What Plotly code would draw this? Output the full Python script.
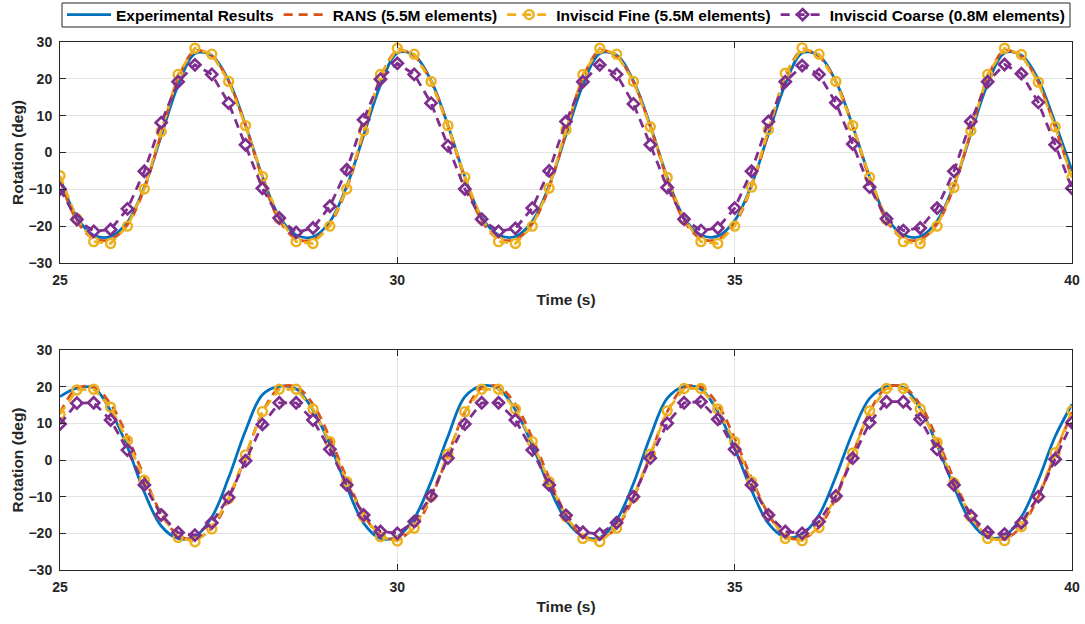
import plotly.graph_objects as go

# ---------------- data ----------------
time_s = [25.00, 25.25, 25.50, 25.75, 26.00, 26.25, 26.50, 26.75, 27.00, 27.25, 27.50, 27.75,
          28.00, 28.25, 28.50, 28.75, 29.00, 29.25, 29.50, 29.75, 30.00, 30.25, 30.50, 30.75,
          31.00, 31.25, 31.50, 31.75, 32.00, 32.25, 32.50, 32.75, 33.00, 33.25, 33.50, 33.75,
          34.00, 34.25, 34.50, 34.75, 35.00, 35.25, 35.50, 35.75, 36.00, 36.25, 36.50, 36.75,
          37.00, 37.25, 37.50, 37.75, 38.00, 38.25, 38.50, 38.75, 39.00, 39.25, 39.50, 39.75,
          40.00]

# top panel
top_exp = [-6.8, -17.6, -22.5, -22.8, -18.9, -9.4, 4.5, 18.2, 26.9, 26.3, 19.5, 7.5,
           -6.5, -17.4, -22.4, -22.9, -18.8, -9.2, 4.6, 18.3, 27.0, 26.4, 19.5, 7.4,
           -6.6, -17.6, -22.4, -22.8, -18.7, -9.0, 4.8, 18.3, 26.9, 26.4, 19.4, 7.3,
           -6.7, -17.7, -22.4, -22.7, -18.5, -8.8, 5.0, 18.5, 27.0, 26.3, 19.3, 7.2,
           -6.6, -17.6, -22.4, -22.8, -18.6, -8.9, 5.0, 18.6, 27.0, 26.4, 19.8, 8.0,
           -5.0]
top_rans = [-7.2, -18.5, -23.4, -23.6, -19.6, -9.8, 5.0, 20.0, 27.6, 26.2, 19.3, 7.3,
            -7.0, -18.4, -23.4, -23.7, -19.5, -9.7, 5.2, 20.1, 27.6, 26.2, 19.2, 7.2,
            -7.1, -18.5, -23.4, -23.6, -19.4, -9.5, 5.4, 20.2, 27.6, 26.1, 19.1, 7.0,
            -7.2, -18.5, -23.4, -23.6, -19.4, -9.3, 5.5, 20.4, 27.7, 26.1, 19.2, 7.1,
            -7.1, -18.4, -23.4, -23.6, -19.4, -9.3, 5.4, 20.3, 27.6, 26.0, 19.0, 6.9,
            -7.0]
top_fine = [-6.3, -18.0, -24.2, -24.7, -20.0, -9.9, 5.7, 21.2, 28.3, 26.7, 19.3, 7.3,
            -6.5, -18.0, -24.2, -24.7, -20.0, -9.9, 5.9, 21.2, 28.3, 26.7, 19.3, 7.3,
            -6.7, -18.1, -24.2, -24.7, -20.0, -9.7, 6.2, 21.2, 28.3, 26.7, 19.3, 7.0,
            -6.8, -18.2, -24.2, -24.7, -20.0, -9.4, 6.2, 21.5, 28.4, 26.7, 19.3, 7.3,
            -6.7, -18.2, -24.2, -24.7, -20.0, -9.5, 5.9, 21.2, 28.3, 26.6, 19.1, 7.0,
            -6.8]
top_coarse = [-9.9, -18.2, -21.4, -20.9, -15.3, -5.1, 8.1, 19.2, 23.8, 21.2, 13.4, 2.1,
              -9.7, -17.8, -21.7, -20.5, -14.6, -4.7, 8.9, 19.9, 24.2, 21.2, 13.4, 1.8,
              -9.9, -18.1, -21.4, -20.6, -15.1, -5.0, 8.4, 19.2, 23.8, 21.2, 13.2, 2.1,
              -9.5, -18.1, -21.2, -20.5, -15.1, -5.1, 8.4, 19.2, 23.6, 21.2, 13.5, 2.3,
              -9.4, -18.0, -21.2, -20.5, -15.1, -5.1, 8.4, 19.2, 23.9, 21.4, 13.6, 2.1,
              -9.7]

# bottom panel
bot_exp = [17.3, 19.6, 19.7, 13.4, 3.5, -8.8, -18.0, -21.4, -20.9, -15.6, -4.8, 8.0,
           17.8, 20.1, 19.4, 13.6, 4.3, -7.3, -17.2, -21.4, -20.9, -15.9, -5.9, 6.4,
           17.2, 20.2, 19.5, 13.6, 4.1, -7.3, -16.4, -20.8, -21.2, -16.4, -6.4, 6.4,
           16.8, 20.0, 19.3, 13.2, 3.2, -8.2, -17.3, -21.1, -20.2, -15.0, -4.5, 7.5,
           16.8, 20.0, 19.8, 14.1, 4.1, -7.3, -16.8, -21.1, -20.7, -15.5, -5.5, 6.4,
           15.2]
bot_rans = [12.8, 19.5, 19.9, 15.3, 6.3, -4.6, -14.6, -20.5, -21.6, -18.6, -10.6, 1.0,
            12.9, 19.6, 20.0, 15.2, 6.0, -4.9, -14.8, -20.6, -21.5, -18.4, -10.3, 1.3,
            13.0, 19.6, 20.0, 15.2, 6.0, -4.9, -14.9, -20.8, -21.6, -18.4, -10.3, 1.3,
            13.1, 19.7, 20.0, 15.1, 5.9, -5.0, -14.7, -20.7, -21.5, -18.3, -10.2, 1.5,
            13.1, 19.7, 20.0, 15.1, 5.8, -5.2, -14.9, -20.8, -21.5, -18.1, -10.1, 1.6,
            13.1]
bot_fine = [12.5, 19.1, 19.3, 14.4, 5.3, -5.5, -15.0, -21.1, -22.3, -18.8, -10.5, 1.4,
            13.2, 19.3, 19.3, 13.9, 5.0, -5.9, -15.5, -20.9, -22.1, -18.6, -10.0, 1.6,
            13.2, 19.3, 19.3, 13.9, 5.0, -5.9, -15.5, -21.4, -22.3, -18.6, -10.2, 1.6,
            13.4, 19.5, 19.5, 13.9, 5.0, -5.9, -15.0, -21.4, -22.0, -18.4, -10.0, 1.9,
            13.4, 19.5, 19.5, 13.9, 4.8, -6.2, -15.5, -21.4, -22.0, -18.2, -10.0, 2.0,
            13.4]
bot_coarse = [9.8, 15.5, 15.6, 10.9, 2.7, -6.8, -15.0, -19.8, -20.5, -17.1, -10.2, -0.2,
              9.7, 15.6, 15.6, 10.9, 2.9, -6.8, -15.0, -19.5, -20.0, -16.8, -9.8, 0.5,
              9.8, 15.6, 15.6, 10.9, 2.7, -6.8, -15.1, -19.7, -20.2, -17.1, -10.0, 0.5,
              10.0, 15.6, 15.9, 11.1, 2.9, -6.8, -15.0, -19.5, -20.0, -16.8, -9.8, 0.5,
              10.2, 15.9, 15.9, 11.1, 2.9, -6.8, -15.2, -19.7, -20.2, -17.1, -10.0, 0.2,
              10.2]

series_names = ["Experimental Results", "RANS (5.5M elements)",
                "Inviscid Fine (5.5M elements)", "Inviscid Coarse (0.8M elements)"]
x_ticks = [25, 30, 35, 40]
y_ticks = [-30, -20, -10, 0, 10, 20, 30]

# ---------------- style ----------------
C_BLUE = "#0072BD"
C_ORANGE = "#D95319"
C_YELLOW = "#EDB120"
C_PURPLE = "#7E2F8E"
AX = "#262626"
FONT = "Liberation Sans, Arial, Helvetica, sans-serif"
DASH = "9px,6px"

fig = go.Figure()

panels = [
    ("x", "y", top_exp, top_rans, top_fine, top_coarse, True),
    ("x2", "y2", bot_exp, bot_rans, bot_fine, bot_coarse, False),
]
for xa, ya, exp_v, rans_v, fine_v, coarse_v, show in panels:
    fig.add_trace(go.Scatter(x=time_s, y=exp_v, mode="lines", name=series_names[0],
                             line=dict(color=C_BLUE, width=2.8, shape="spline", smoothing=1.0),
                             xaxis=xa, yaxis=ya, showlegend=show, legendgroup="a"))
    fig.add_trace(go.Scatter(x=time_s, y=rans_v, mode="lines", name=series_names[1],
                             line=dict(color=C_ORANGE, width=2.8, dash=DASH, shape="spline", smoothing=1.0),
                             xaxis=xa, yaxis=ya, showlegend=show, legendgroup="b"))
    fig.add_trace(go.Scatter(x=time_s, y=fine_v, mode="lines+markers", name=series_names[2],
                             line=dict(color=C_YELLOW, width=2.8, dash=DASH),
                             marker=dict(symbol="circle-open", size=9, color=C_YELLOW,
                                         line=dict(width=2.4, color=C_YELLOW)),
                             xaxis=xa, yaxis=ya, showlegend=show, legendgroup="c"))
    fig.add_trace(go.Scatter(x=time_s, y=coarse_v, mode="lines+markers", name=series_names[3],
                             line=dict(color=C_PURPLE, width=2.8, dash=DASH),
                             marker=dict(symbol="diamond-open", size=8.5, color=C_PURPLE,
                                         line=dict(width=2.7, color=C_PURPLE)),
                             xaxis=xa, yaxis=ya, showlegend=show, legendgroup="d"))

H = 624.0
W = 1012.0
tickfont = dict(family=FONT, size=14, color=AX, weight="bold")
titlefont = dict(family=FONT, size=15.5, color=AX, weight="bold")

def xaxis_cfg(anchor):
    return dict(anchor=anchor, domain=[0, 1], range=[25, 40], tickvals=x_ticks,
                showline=True, linecolor=AX, linewidth=1, mirror="ticks",
                ticks="inside", ticklen=6, tickcolor=AX, tickwidth=1,
                showgrid=True, gridcolor="#e3e3e3", gridwidth=1, zeroline=False,
                tickfont=tickfont, ticklabelstandoff=4, automargin=False,
                title=dict(text="Time (s)", font=titlefont, standoff=7))

def yaxis_cfg(anchor, dom):
    return dict(anchor=anchor, domain=dom, range=[-30, 30], tickvals=y_ticks,
                showline=True, linecolor=AX, linewidth=1, mirror="ticks",
                ticks="inside", ticklen=6, tickcolor=AX, tickwidth=1,
                showgrid=True, gridcolor="#e3e3e3", gridwidth=1, zeroline=False,
                tickfont=tickfont, ticklabelstandoff=4, automargin=False,
                title=dict(text="Rotation (deg)", font=titlefont, standoff=1))

fig.update_layout(
    width=1085, height=624,
    margin=dict(l=60, r=13, t=0, b=0, autoexpand=False),
    paper_bgcolor="white", plot_bgcolor="white",
    font=dict(family=FONT, color="black"),
    xaxis=xaxis_cfg("y"),
    yaxis=yaxis_cfg("x", [1 - 263 / H, 1 - 42 / H]),
    xaxis2=xaxis_cfg("y2"),
    yaxis2=yaxis_cfg("x2", [1 - 570 / H, 1 - 350 / H]),
    legend=dict(orientation="h", x=0.5, xanchor="center", y=1 - 15 / H, yanchor="middle",
                bgcolor="rgba(0,0,0,0)", borderwidth=0,
                font=dict(family=FONT, size=15.5, color="black", weight="bold"),
                itemwidth=44, tracegroupgap=0),
    showlegend=True,
    shapes=[dict(type="rect", xref="paper", yref="paper",
                 x0=(62 - 60) / W, x1=(1070 - 60) / W, y0=1 - 27 / H, y1=1 - 3 / H,
                 line=dict(color=AX, width=1), fillcolor="white", layer="above")],
)

fig.write_html("out.html")
